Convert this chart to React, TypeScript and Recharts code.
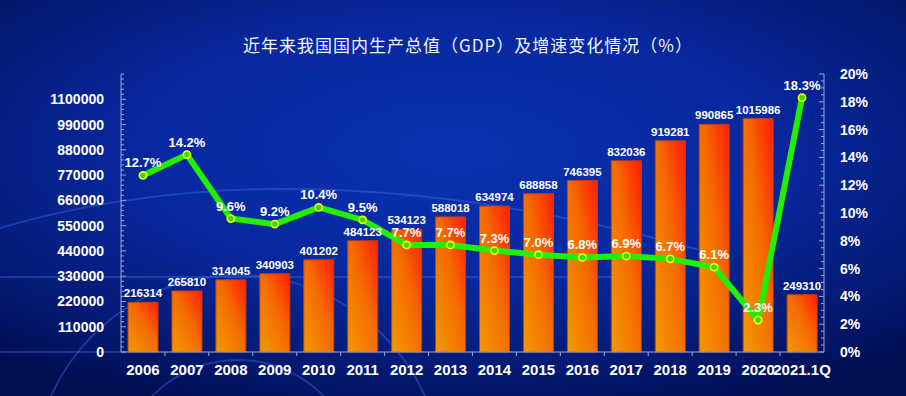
import { ComposedChart, Bar, Line, XAxis, YAxis, LabelList } from 'recharts';

const years = ['2006', '2007', '2008', '2009', '2010', '2011', '2012', '2013', '2014', '2015', '2016', '2017', '2018', '2019', '2020', '2021.1Q'];
const gdp = [216314, 265810, 314045, 340903, 401202, 484123, 534123, 588018, 634974, 688858, 746395, 832036, 919281, 990865, 1015986, 249310];
const growth = [12.7, 14.2, 9.6, 9.2, 10.4, 9.5, 7.7, 7.7, 7.3, 7.0, 6.8, 6.9, 6.7, 6.1, 2.3, 18.3];

const gdpMajorTicks = [0, 110000, 220000, 330000, 440000, 550000, 660000, 770000, 880000, 990000, 1100000];
const growthMajorTicks = [0, 2, 4, 6, 8, 10, 12, 14, 16, 18, 20];
const TITLE = '近年来我国国内生产总值（GDP）及增速变化情况（%）';

// minor tick marks: 5 per major step on the left, 4 per major step on the right
const gdpTicks: number[] = [];
for (let i = 0; i <= 55; i++) gdpTicks.push(i * 22000);
const growthTicks: number[] = [];
for (let i = 0; i <= 40; i++) growthTicks.push(i * 0.5);

const data = years.map((year, i) => ({ year, gdp: gdp[i], growth: growth[i] }));

const AXIS = '#9aa8d8';
const FONT = '"Liberation Sans", Arial, sans-serif';

const LeftTick = (props: any) => {
  const { x, y, payload } = props;
  const ax = x + 17;
  const major = gdpMajorTicks.includes(payload.value);
  return (
    <g>
      <line x1={ax} x2={ax + (major ? 5 : 3)} y1={y} y2={y} stroke={AXIS} strokeWidth={1} />
      {major && (
        <text x={x} y={y} dy={5} textAnchor="end" fill="#fff" fontSize={14} fontWeight="bold" fontFamily={FONT}>
          {payload.value}
        </text>
      )}
    </g>
  );
};

const RightTick = (props: any) => {
  const { x, y, payload } = props;
  const ax = x - 16;
  const major = growthMajorTicks.includes(payload.value);
  return (
    <g>
      <line x1={ax} x2={ax - (major ? 5 : 3)} y1={y} y2={y} stroke={AXIS} strokeWidth={1} />
      {major && (
        <text x={x} y={y} dy={5} textAnchor="start" fill="#fff" fontSize={14} fontWeight="bold" fontFamily={FONT}>
          {payload.value}%
        </text>
      )}
    </g>
  );
};

const BottomTick = (props: any) => {
  const { x, y, payload, index } = props;
  const ay = y - 10;
  return (
    <g>
      {index > 0 && <line x1={x - 22} x2={x - 22} y1={ay} y2={ay + 4} stroke={AXIS} strokeWidth={1} />}
      <text x={x} y={y} dy={13} textAnchor="middle" fill="#fff" fontSize={15} fontWeight="bold" fontFamily={FONT}>
        {payload.value}
      </text>
    </g>
  );
};

const Dot = (props: any) => {
  const { cx, cy } = props;
  return <circle cx={cx} cy={cy} r={3.6} fill="#33dd00" stroke="#ffff00" strokeWidth={1.6} />;
};

export default function App() {
  return (
    <div
      style={{
        position: 'absolute',
        left: 0,
        top: 0,
        width: 906,
        height: 396,
        overflow: 'hidden',
        background: 'radial-gradient(ellipse 75% 70% at 50% 38%, #0a32b0 0%, #0828a0 45%, #041c7a 75%, #010e52 100%)',
      }}
    >
      <style>{'body{margin:0}'}</style>
      <svg width={906} height={396} style={{ position: 'absolute', left: 0, top: 0 }}>
        <g fill="none" stroke="rgba(70,120,255,0.35)" strokeWidth={2}>
          <circle cx={238} cy={480} r={205} />
          <circle cx={238} cy={480} r={120} />
          <line x1={0} y1={277} x2={640} y2={277} />
          <line x1={0} y1={352} x2={121} y2={352} />
          <path d="M0 228 Q 300 140 700 250" />
        </g>
      </svg>
      <div
        style={{
          position: 'absolute',
          left: 0,
          top: 32,
          width: 936,
          textAlign: 'center',
          color: '#f4f4ff',
          fontSize: 17,
          letterSpacing: 1,
          fontFamily: '"Noto Sans CJK SC", sans-serif',
        }}
      >
        {TITLE}
      </div>
      <ComposedChart
        width={906}
        height={396}
        data={data}
        margin={{ top: 74, right: 0, bottom: 0, left: 0 }}
        barCategoryGap="16%"
        style={{ position: 'absolute', left: 0, top: 0 }}
      >
        <defs>
          <linearGradient id="barFill" x1="0" y1="1" x2="1" y2="0">
            <stop offset="0%" stopColor="#f29a00" />
            <stop offset="55%" stopColor="#f56a00" />
            <stop offset="100%" stopColor="#ff1e00" />
          </linearGradient>
        </defs>
        <XAxis
          dataKey="year"
          height={44}
          stroke={AXIS}
          tickLine={false}
          tickSize={0}
          tickMargin={10}
          interval={0}
          tick={<BottomTick />}
        />
        <YAxis
          yAxisId="gdp"
          orientation="left"
          width={121}
          domain={[0, 1210000]}
          ticks={gdpTicks}
          interval={0}
          stroke={AXIS}
          tickLine={false}
          tickSize={0}
          tickMargin={17}
          tick={<LeftTick />}
        />
        <YAxis
          yAxisId="growth"
          orientation="right"
          width={82}
          domain={[0, 20]}
          ticks={growthTicks}
          interval={0}
          stroke={AXIS}
          tickLine={false}
          tickSize={0}
          tickMargin={16}
          tick={<RightTick />}
        />
        <Bar yAxisId="gdp" dataKey="gdp" fill="url(#barFill)" stroke="#c0401a" strokeWidth={1} isAnimationActive={false}>
          <LabelList dataKey="gdp" position="top" offset={5} fill="#fff" fontSize={11.5} fontWeight="bold" fontFamily={FONT} />
        </Bar>
        <Line
          yAxisId="growth"
          dataKey="growth"
          type="linear"
          stroke="#22ee00"
          strokeWidth={6}
          dot={<Dot />}
          activeDot={false}
          isAnimationActive={false}
        >
          <LabelList
            dataKey="growth"
            position="top"
            offset={8}
            fill="#fff"
            fontSize={13}
            fontWeight="bold"
            fontFamily={FONT}
            formatter={(v: any) => `${Number(v).toFixed(1)}%`}
          />
        </Line>
      </ComposedChart>
    </div>
  );
}
